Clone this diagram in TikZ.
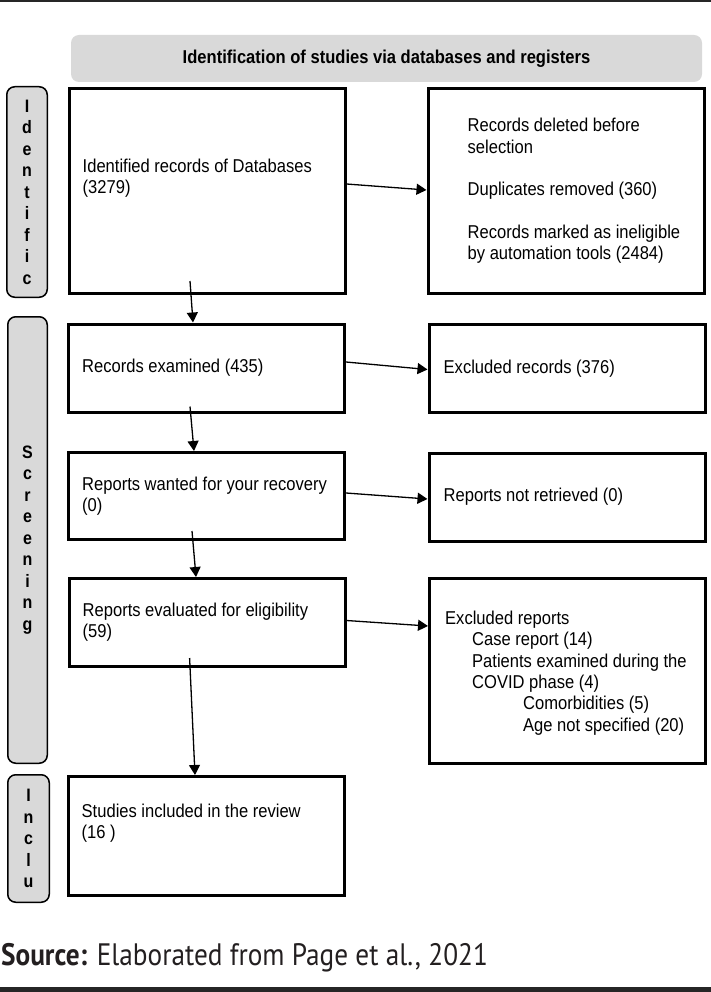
\documentclass[tikz,border=0pt]{standalone}
\usepackage{fontspec}
\setmainfont{Liberation Sans}[FakeStretch=0.89]
\newfontfamily\sourcefont{PT Sans}[FakeStretch=0.88]
\usetikzlibrary{arrows.meta, positioning}

\definecolor{bargray}{HTML}{D9D9D9}
\definecolor{rulegray}{HTML}{262626}
\definecolor{sourceink}{HTML}{231F20}

\newcommand{\blockfont}{\fontsize{18.6}{21.3}\selectfont}
\newcommand{\sidefont}{\fontsize{18}{21.5}\selectfont\bfseries}

\begin{document}
\begin{tikzpicture}[x=1pt, y=-1pt,
    block/.style={rectangle, draw, line width=3pt, minimum width=276pt, inner sep=0pt},
    sidebar/.style={rectangle, draw, line width=1.5pt, fill=bargray, rounded corners=8pt, inner sep=0pt, align=center, font=\sidefont},
    header/.style={rectangle, fill=bargray, rounded corners=8pt, minimum width=631pt, minimum height=47pt, font=\fontsize{18.6}{21}\selectfont\bfseries},
    txt/.style={inner sep=0pt, align=left, font=\blockfont},
    arrow/.style={-{Triangle[length=10pt, width=11pt]}, line width=1.3pt}
]
\useasboundingbox (0,0) rectangle (711,992);

% Rules
\fill[rulegray] (0,0) rectangle (711,2.5);
\fill[rulegray] (0,986.5) rectangle (711,992);

% Header
\node[header] (title) at (386.5,58.5) {Identification of studies via databases and registers};

% Phase bars
\node[sidebar, minimum width=40.5pt, minimum height=210.5pt] (identbar) at (27,192) {I\\d\\e\\n\\t\\i\\f\\i\\c};
\node[sidebar, minimum width=39.5pt, minimum height=446.5pt] (screenbar) at (27.5,540) {S\\c\\r\\e\\e\\n\\i\\n\\g};
\node[sidebar, minimum width=41.5pt, minimum height=127.5pt] (inclbar) at (28.5,838.5) {I\\n\\c\\l\\u};

% Boxes
\node[block, minimum height=205pt] (ident) at (207,191) {};
\node[block, minimum height=205pt] (removed) at (566,191) {};
\node[block, minimum height=88pt] (examined) at (206.5,368) {};
\node[block, minimum height=88pt] (excluded) at (567,368.5) {};
\node[block, minimum height=87pt] (wanted) at (206.5,496) {};
\node[block, minimum height=88pt] (notretr) at (567,497) {};
\node[block, minimum height=88pt] (evaluated) at (207,622.5) {};
\node[block, minimum height=185pt] (excrep) at (567.5,671) {};
\node[block, minimum height=119pt] (included) at (206,836) {};

% Texts
\node[txt, right=15pt of ident.west, yshift=13pt] (identtxt) {Identified records of Databases\\(3279)};
\node[txt, right=41pt of removed.west] (removedtxt) {Records deleted before\\selection\\[21.3pt]Duplicates removed (360)\\[21.3pt]Records marked as ineligible\\by automation tools (2484)};
\node[txt, right=15pt of examined.west] (examinedtxt) {Records examined (435)};
\node[txt, right=16pt of excluded.west] (excludedtxt) {Excluded records (376)};
\node[txt, right=15pt of wanted.west] (wantedtxt) {Reports wanted for your recovery\\(0)};
\node[txt, right=16pt of notretr.west] (notretrtxt) {Reports not retrieved (0)};
\node[txt, right=15pt of evaluated.west] (evaluatedtxt) {Reports evaluated for eligibility\\(59)};
\node[txt, right=17pt of excrep.west, yshift=-2pt] (excreptxt) {Excluded reports\\\hspace*{27pt}Case report (14)\\\hspace*{27pt}Patients examined during the\\\hspace*{27pt}COVID phase (4)\\\hspace*{78pt}Comorbidities (5)\\\hspace*{78pt}Age not specified (20)};
\node[txt, right=15pt of included.west, yshift=13pt] (includedtxt) {Studies included in the review\\(16 )};

% Arrows
\draw[arrow] ([yshift=7pt]ident.east) -- ([yshift=1pt]removed.west);
\draw[arrow] ([yshift=6pt]examined.east) -- ([yshift=-1pt]excluded.west);
\draw[arrow] ([yshift=3pt]wanted.east) -- ([yshift=-2pt]notretr.west);
\draw[arrow] ([yshift=2pt]evaluated.east) -- ([yshift=45pt]excrep.west);
\draw[arrow] ([xshift=-17pt,yshift=14pt]ident.south) -- ([xshift=-13.5pt]examined.north);
\draw[arrow] ([xshift=-16.5pt,yshift=7pt]examined.south) -- ([xshift=-12.5pt]wanted.north);
\draw[arrow] ([xshift=-14.5pt,yshift=10pt]wanted.south) -- ([xshift=-11pt]evaluated.north);
\draw[arrow] ([xshift=-17.4pt,yshift=10pt]evaluated.south) -- ([xshift=-11pt]included.north);

% Source line
\node[anchor=base west, inner sep=0pt, text=sourceink, font=\sourcefont\fontsize{31}{36}\selectfont] (source) at (1,965) {{\bfseries Source:} Elaborated from Page et al., 2021};

\end{tikzpicture}
\end{document}
